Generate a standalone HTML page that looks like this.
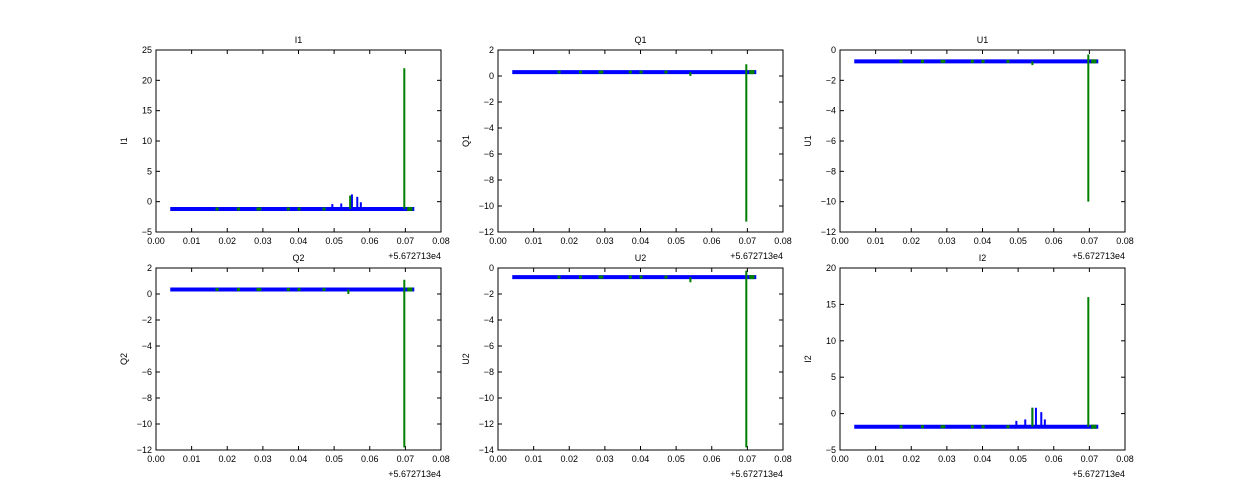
<!DOCTYPE html><html><head><style>body{margin:0;background:#fff}svg{display:block}text{font-family:"Liberation Sans",sans-serif;font-size:9px;fill:#000}</style></head><body>
<svg id="s" width="1250" height="500" xmlns="http://www.w3.org/2000/svg"></svg>
<script>
const S=document.getElementById('s');let h='';
const P=[
 {t:'I1',c:0,r:0,y0:-5,y1:25,st:5,b:-1.2,sp:22,lo:-1.2,bl:[[0.0495,-0.4],[0.052,-0.3],[0.055,1.2],[0.0565,0.8],[0.0575,-0.1]],g:[[0.0545,1]]},
 {t:'Q1',c:1,r:0,y0:-12,y1:2,st:2,b:0.3,sp:0.9,lo:-11.2,bl:[],g:[[0.054,0]]},
 {t:'U1',c:2,r:0,y0:-12,y1:0,st:2,b:-0.75,sp:-0.3,lo:-10,bl:[],g:[[0.054,-1]]},
 {t:'Q2',c:0,r:1,y0:-12,y1:2,st:2,b:0.35,sp:1.1,lo:-11.8,bl:[],g:[[0.054,0]]},
 {t:'U2',c:1,r:1,y0:-14,y1:0,st:2,b:-0.7,sp:-0.2,lo:-13.8,bl:[],g:[[0.054,-1.1]]},
 {t:'I2',c:2,r:1,y0:-5,y1:20,st:5,b:-1.8,sp:16,lo:-1.8,bl:[[0.0495,-1],[0.052,-0.8],[0.054,0.8],[0.055,0.8],[0.0565,0.2],[0.0575,-0.8]],g:[[0.054,0.8]]}];
const fmt=v=>(v<0?'\u2212':'')+Math.abs(v);
P.forEach(p=>{
 const L=156+p.c*342,T=50+p.r*218,W=285,H=182;
 const X=x=>L+x/0.08*W, Y=y=>T+H-(y-p.y0)/(p.y1-p.y0)*H;
 h+=`<text x="${L+W/2}" y="${T-7}" text-anchor="middle" font-size="10">${p.t}</text>`;
 h+=`<text transform="translate(${L-29},${T+H/2}) rotate(-90)" text-anchor="middle">${p.t}</text>`;
 // data
 h+=`<line x1="${X(0.004)}" x2="${X(0.0725)}" y1="${Y(p.b)}" y2="${Y(p.b)}" stroke="#0000ff" stroke-width="4"/>`;
 p.bl.forEach(s=>h+=`<line x1="${X(s[0])}" x2="${X(s[0])}" y1="${Y(p.b)}" y2="${Y(s[1])}" stroke="#0000ff" stroke-width="2"/>`);
 [0.017,0.023,0.0285,0.029,0.037,0.04,0.047].forEach(x=>h+=`<rect x="${X(x)-1}" y="${Y(p.b)-1.5}" width="3" height="3" fill="#008000"/>`);
 p.g.forEach(s=>h+=`<line x1="${X(s[0])}" x2="${X(s[0])}" y1="${Y(p.b)}" y2="${Y(s[1])}" stroke="#008000" stroke-width="2"/>`);
 h+=`<line x1="${X(0.0697)}" x2="${X(0.0697)}" y1="${Y(p.lo)}" y2="${Y(p.sp)}" stroke="#008000" stroke-width="2"/>`;
 h+=`<rect x="${X(0.0705)}" y="${Y(p.b)-2}" width="${X(0.072)-X(0.0705)}" height="4" fill="#008000"/>`;
 // frame
 h+=`<rect x="${L}" y="${T}" width="${W}" height="${H}" fill="none" stroke="#000" stroke-width="1"/>`;
 for(let i=0;i<=8;i++){const x=L+i*W/8;h+=`<line x1="${x}" x2="${x}" y1="${T+H}" y2="${T+H-4}" stroke="#000"/><line x1="${x}" x2="${x}" y1="${T}" y2="${T+4}" stroke="#000"/><text x="${x}" y="${T+H+12}" text-anchor="middle">${(i/100).toFixed(2)}</text>`;}
 for(let v=p.y0;v<=p.y1+1e-9;v+=p.st){const y=Y(v);h+=`<line x1="${L}" x2="${L+4}" y1="${y}" y2="${y}" stroke="#000"/><line x1="${L+W}" x2="${L+W-4}" y1="${y}" y2="${y}" stroke="#000"/><text x="${L-4}" y="${y+3}" text-anchor="end">${fmt(v)}</text>`;}
 h+=`<text x="${L+W}" y="${T+H+27}" text-anchor="end">+5.672713e4</text>`;
});
S.innerHTML=h;
</script></body></html>
